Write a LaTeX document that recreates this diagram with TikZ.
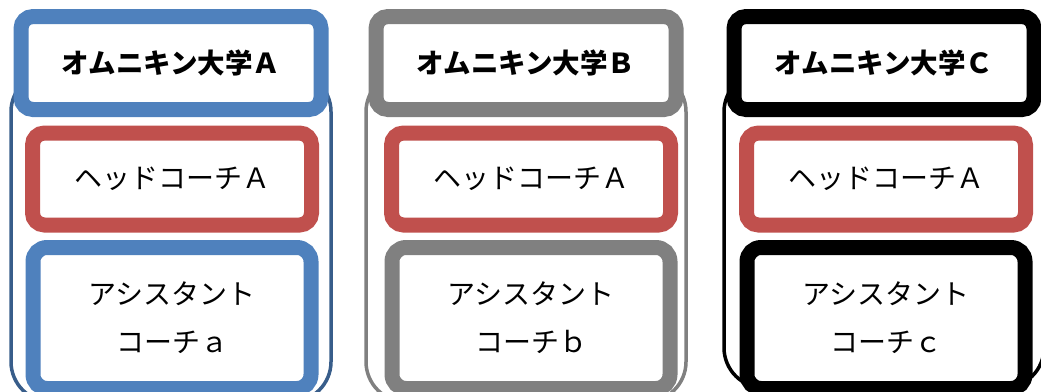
\documentclass[tikz,border=0pt]{standalone}
\usepackage{fontspec}
\newfontfamily\jpfont{Noto Sans CJK JP}
\definecolor{uniblue}{RGB}{79,129,189}
\definecolor{contblue}{RGB}{56,93,138}
\definecolor{coachred}{RGB}{192,80,77}
\definecolor{unigray}{RGB}{128,128,128}

\begin{document}
\begin{tikzpicture}[x=1pt,y=-1pt,
  univ/.style 2 args={draw=#1,line width=3.5pt,rounded corners=40pt,minimum width=320pt,minimum height=#2},
  namebox/.style={draw=#1,line width=15pt,fill=white,rounded corners=12pt,minimum width=300pt,minimum height=93pt,font=\jpfont\bfseries\fontsize{27.5}{32}\selectfont},
  coachbox/.style={draw=coachred,line width=15pt,fill=white,rounded corners=12pt,minimum width=279pt,minimum height=92pt,font=\jpfont\fontsize{28}{32}\selectfont},
  asstbox/.style={draw=#1,line width=15pt,fill=white,rounded corners=14pt,minimum width=278pt,minimum height=141pt,align=center,font=\jpfont\fontsize{28}{48}\selectfont}]
\useasboundingbox (0,0) rectangle (1041,391);
\clip (0,0) rectangle (1041,391);
\foreach \n/\hx/\bx/\col/\line/\uh/\ltr/\sml in {a/171/172/uniblue/contblue/330pt/Ａ/ａ, b/526/531/unigray/unigray/330pt/Ｂ/ｂ, c/884/886/black/black/316pt/Ｃ/ｃ}{
  \node[univ={\line}{\uh}, anchor=north] (univ\n) at (\hx,70) {};
  \node[namebox=\col] (name\n) at (\hx,63) {オムニキン大学\ltr};
  \node[coachbox] (head\n) at (\bx,179) {ヘッドコーチＡ};
  \node[asstbox=\col] (asst\n) at (\bx,318) {アシスタント\\コーチ\sml};
}
\end{tikzpicture}
\end{document}
